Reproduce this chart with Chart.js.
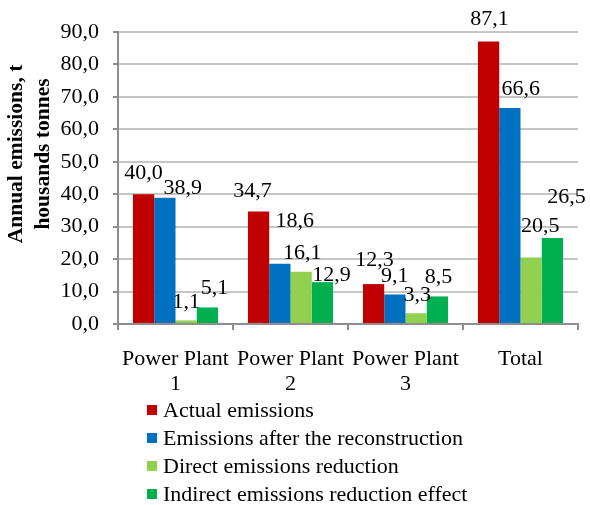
<!DOCTYPE html>
<html>
<head>
<meta charset="utf-8">
<script src="https://cdn.jsdelivr.net/npm/chart.js@4.4.1/dist/chart.umd.min.js"></script>
<style>
  html, body { margin: 0; padding: 0; background: #fff; }
  #wrap { width: 590px; height: 505px; }
</style>
</head>
<body>
<div id="wrap"><canvas id="emissions-chart" width="590" height="505"></canvas></div>
<script>
// --- Data ---
const categories = [['Power Plant', '1'], ['Power Plant', '2'], ['Power Plant', '3'], 'Total'];
const seriesNames = ['Actual emissions', 'Emissions after the reconstruction', 'Direct emissions reduction', 'Indirect emissions reduction effect'];
const actualEmissions = [40.0, 34.7, 12.3, 87.1];
const afterReconstruction = [38.9, 18.6, 9.1, 66.6];
const directReduction = [1.1, 16.1, 3.3, 20.5];
const indirectReduction = [5.1, 12.9, 8.5, 26.5];
const yTitleLines = ['Annual emissions, t', 'housands tonnes'];
const yTicksMax = 90;
const yTicksStep = 10;

// --- Styles ---
const seriesColors = ['#C00000', '#0070C0', '#92D050', '#00B050'];
// label offsets [dx, dy] from bar top centre, mimics the Excel label placement
const labelOffsets = [
    [[0, -21], [-6, -20], [1, -24], [1, -22]],
    [[18, -10], [15, -42], [0, -18], [11, -19]],
    [[0, -18], [1, -19], [1, -18], [9, -31]],
    [[7, -19], [9, -7], [1, -19], [14, -41]]
];
const FONT = '"Liberation Serif", "Times New Roman", serif';
const gridColor = '#c6c6c6';
const axisColor = '#8e8e8e';

const fmt = v => v.toFixed(1).replace('.', ',');

// --- Datalabels ---
const barLabels = {
    id: 'barLabels',
    afterDatasetsDraw(chart) {
        const ctx = chart.ctx;
        ctx.save();
        ctx.font = '22px ' + FONT;
        ctx.fillStyle = '#000';
        ctx.textAlign = 'center';
        ctx.textBaseline = 'middle';
        chart.data.datasets.forEach((ds, i) => {
            const meta = chart.getDatasetMeta(i);
            meta.data.forEach((bar, j) => {
                const off = labelOffsets[i][j];
                ctx.fillText(fmt(ds.data[j]), bar.x + off[0], bar.y + off[1]);
            });
        });
        ctx.restore();
    }
};

// --- Y axis title (Excel centres it a bit higher than the plot area) ---
const yTitle = {
    id: 'yTitle',
    afterDraw(chart) {
        const ctx = chart.ctx;
        ctx.save();
        ctx.font = 'bold 21.5px ' + FONT;
        ctx.fillStyle = '#000';
        ctx.textAlign = 'center';
        ctx.textBaseline = 'middle';
        ctx.translate(0, 154);
        ctx.rotate(-Math.PI / 2);
        yTitleLines.forEach((line, i) => {
            ctx.fillText(line, 0, 16.5 + i * 26.5);
        });
        ctx.restore();
    }
};

// --- Vertical legend below the axis ---
const stackedLegend = {
    id: 'stackedLegend',
    afterDraw(chart) {
        const ctx = chart.ctx;
        const x0 = 147;
        const y0 = 410;
        const rowH = 28;
        ctx.save();
        ctx.font = '22px ' + FONT;
        ctx.textAlign = 'left';
        ctx.textBaseline = 'middle';
        chart.data.datasets.forEach((ds, i) => {
            const y = y0 + i * rowH;
            ctx.fillStyle = ds.backgroundColor;
            ctx.fillRect(x0, y - 5, 10, 10);
            ctx.fillStyle = '#000';
            ctx.fillText(ds.label, x0 + 16, y + 1);
        });
        ctx.restore();
    }
};

const seriesData = [actualEmissions, afterReconstruction, directReduction, indirectReduction];

new Chart(document.getElementById('emissions-chart'), {
    type: 'bar',
    data: {
        labels: categories,
        datasets: seriesData.map((d, i) => ({
            label: seriesNames[i],
            data: d,
            backgroundColor: seriesColors[i],
            borderWidth: 0,
            categoryPercentage: 0.74,
            barPercentage: 1.0
        }))
    },
    options: {
        responsive: false,
        animation: false,
        devicePixelRatio: 1,
        layout: { padding: { top: 32, right: 12, bottom: 0, left: 0 } },
        plugins: {
            legend: { display: false },
            tooltip: { enabled: false }
        },
        scales: {
            x: {
                afterFit: scale => { scale.height = 181; },
                grid: { drawOnChartArea: false, offset: true, tickLength: 6, color: axisColor, lineWidth: 2 },
                border: { color: axisColor, width: 2 },
                ticks: { color: '#000', font: { family: FONT, size: 22, lineHeight: 1.14 }, padding: 17, maxRotation: 0, autoSkip: false }
            },
            y: {
                min: 0,
                max: yTicksMax,
                afterFit: scale => { scale.width = 118; },
                grid: { color: gridColor, lineWidth: 2, tickLength: 5, tickColor: axisColor },
                border: { color: axisColor, width: 2 },
                ticks: {
                    stepSize: yTicksStep,
                    color: '#000',
                    font: { family: FONT, size: 22 },
                    padding: 14,
                    callback: v => fmt(v)
                }
            }
        }
    },
    plugins: [barLabels, yTitle, stackedLegend]
});
</script>
</body>
</html>
